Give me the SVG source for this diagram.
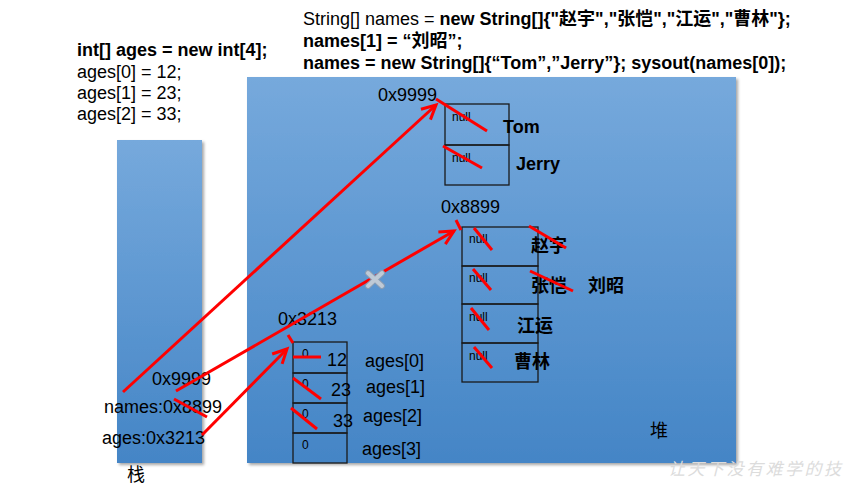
<svg xmlns="http://www.w3.org/2000/svg" width="845" height="486" viewBox="0 0 845 486">
<style>
text{font-family:"Liberation Sans","Noto Sans CJK SC",sans-serif;fill:#000}
.code{font-size:18px}
.b{font-weight:bold}
.lbl{font-size:18px}
.nul{font-size:12px}
.zero{font-size:12px}
.val{font-size:18px}
.cn{font-size:18px;font-weight:bold}
.cell{fill:none;stroke:#1a1a1a;stroke-width:1.3}
.red{stroke:#ff0000;stroke-width:3;fill:none;stroke-linecap:butt}
.wm{font-size:17px;letter-spacing:2.5px;font-style:italic;fill:#dcdcdc;font-family:"Noto Sans CJK SC",sans-serif}
</style>
<defs>
<linearGradient id="blue" x1="0" y1="0" x2="0" y2="1">
<stop offset="0" stop-color="#76a9dc"/>
<stop offset="1" stop-color="#4485c6"/>
</linearGradient>
<filter id="sh" x="-5%" y="-5%" width="115%" height="115%">
<feDropShadow dx="2" dy="2" stdDeviation="1.5" flood-color="#000" flood-opacity="0.35"/>
</filter>
<marker id="ah" markerUnits="userSpaceOnUse" markerWidth="20" markerHeight="20" refX="15" refY="8" orient="auto" viewBox="0 0 20 16">
<path d="M1,1 L15,8 L1,15" fill="none" stroke="#ff0000" stroke-width="3"/>
</marker>
</defs>

<g id="code-ages">
<text class="code b" x="77" y="56">int[] ages = new int[4];</text>
<text class="code" x="77" y="78">ages[0] = 12;</text>
<text class="code" x="77" y="99">ages[1] = 23;</text>
<text class="code" x="77" y="120">ages[2] = 33;</text>
</g>

<g id="code-names">
<text class="code" x="303" y="25">String[] names = <tspan class="b">new String[]{"赵宇","张恺","江运","曹林"};</tspan></text>
<text class="code b" x="303" y="47">names[1] = “刘昭”;</text>
<text class="code b" x="303" y="69">names = new String[]{“Tom”,”Jerry”}; sysout(names[0]);</text>
</g>

<g id="stack">
<rect x="117" y="140" width="85" height="323" fill="url(#blue)" filter="url(#sh)"/>
<text class="lbl" x="127" y="481">栈</text>
</g>

<g id="heap">
<rect x="247" y="77" width="489" height="386" fill="url(#blue)" filter="url(#sh)"/>
<text class="lbl" x="650" y="437">堆</text>
</g>

<g id="stack-vars">
<text class="lbl" x="152" y="385">0x9999</text>
<text class="lbl" x="104" y="413">names:0x8899</text>
<text class="lbl" x="102" y="444">ages:0x3213</text>
</g>

<g id="array-0x9999">
<text class="lbl" x="378" y="101">0x9999</text>
<rect class="cell" x="445" y="104" width="64" height="41"/>
<rect class="cell" x="445" y="145" width="64" height="40"/>
<text class="nul" x="452" y="121">null</text>
<text class="nul" x="452" y="162">null</text>
<text class="cn" x="503" y="133">Tom</text>
<text class="cn" x="516" y="170">Jerry</text>
</g>

<g id="array-0x8899">
<text class="lbl" x="441" y="213">0x8899</text>
<rect class="cell" x="462" y="227" width="76" height="39"/>
<rect class="cell" x="462" y="266" width="76" height="38"/>
<rect class="cell" x="462" y="304" width="76" height="39"/>
<rect class="cell" x="462" y="343" width="76" height="39"/>
<text class="nul" x="469" y="243">null</text>
<text class="nul" x="469" y="282">null</text>
<text class="nul" x="469" y="321">null</text>
<text class="nul" x="469" y="360">null</text>
<text class="cn" x="531" y="252">赵宇</text>
<text class="cn" x="531" y="292">张恺</text>
<text class="cn" x="588" y="292">刘昭</text>
<text class="cn" x="517" y="332">江运</text>
<text class="cn" x="514" y="368">曹林</text>
</g>

<g id="array-0x3213">
<text class="lbl" x="278" y="325">0x3213</text>
<rect class="cell" x="293" y="342" width="54" height="31"/>
<rect class="cell" x="293" y="373" width="54" height="30"/>
<rect class="cell" x="293" y="403" width="54" height="30"/>
<rect class="cell" x="293" y="433" width="54" height="30"/>
<text class="zero" x="302" y="358">0</text>
<text class="zero" x="302" y="388">0</text>
<text class="zero" x="302" y="418">0</text>
<text class="zero" x="302" y="449">0</text>
<text class="val" x="327" y="366">12</text>
<text class="val" x="331" y="396">23</text>
<text class="val" x="333" y="427">33</text>
<text class="lbl" x="365" y="367">ages[0]</text>
<text class="lbl" x="366" y="393">ages[1]</text>
<text class="lbl" x="363" y="422">ages[2]</text>
<text class="lbl" x="362" y="455">ages[3]</text>
</g>

<g id="connectors">
<line class="red" x1="123" y1="392" x2="436" y2="105" marker-end="url(#ah)"/>
<line class="red" x1="176" y1="391" x2="454" y2="231" marker-end="url(#ah)"/>
<line class="red" x1="202" y1="435" x2="287" y2="349" marker-end="url(#ah)"/>
<g id="cross-mark" stroke-linecap="round">
<path d="M368,273 L382,286 M382,273 L368,286" stroke="#8a9db3" stroke-width="6"/>
<path d="M368,273 L382,286 M382,273 L368,286" stroke="#bfcad6" stroke-width="4"/>
</g>
</g>

<g id="strikes">
<line class="red" x1="174" y1="399" x2="207" y2="417"/>
<line class="red" x1="288" y1="335" x2="293" y2="343"/>
<line class="red" x1="456" y1="220" x2="461" y2="230"/>
<line class="red" x1="436" y1="99" x2="487" y2="131"/>
<line class="red" x1="443" y1="146" x2="482" y2="168"/>
<line class="red" x1="474" y1="228" x2="492" y2="250"/>
<line class="red" x1="473" y1="269" x2="491" y2="290"/>
<line class="red" x1="471" y1="308" x2="489" y2="330"/>
<line class="red" x1="474" y1="347" x2="492" y2="368"/>
<line class="red" x1="529" y1="226" x2="566" y2="248"/>
<line class="red" x1="530" y1="271" x2="573" y2="291"/>
<line class="red" x1="293" y1="357" x2="321" y2="357"/>
<line class="red" x1="293" y1="378" x2="321" y2="399"/>
<line class="red" x1="291" y1="408" x2="317" y2="429"/>
</g>

<text class="wm" x="668" y="475">让天下没有难学的技</text>
</svg>
